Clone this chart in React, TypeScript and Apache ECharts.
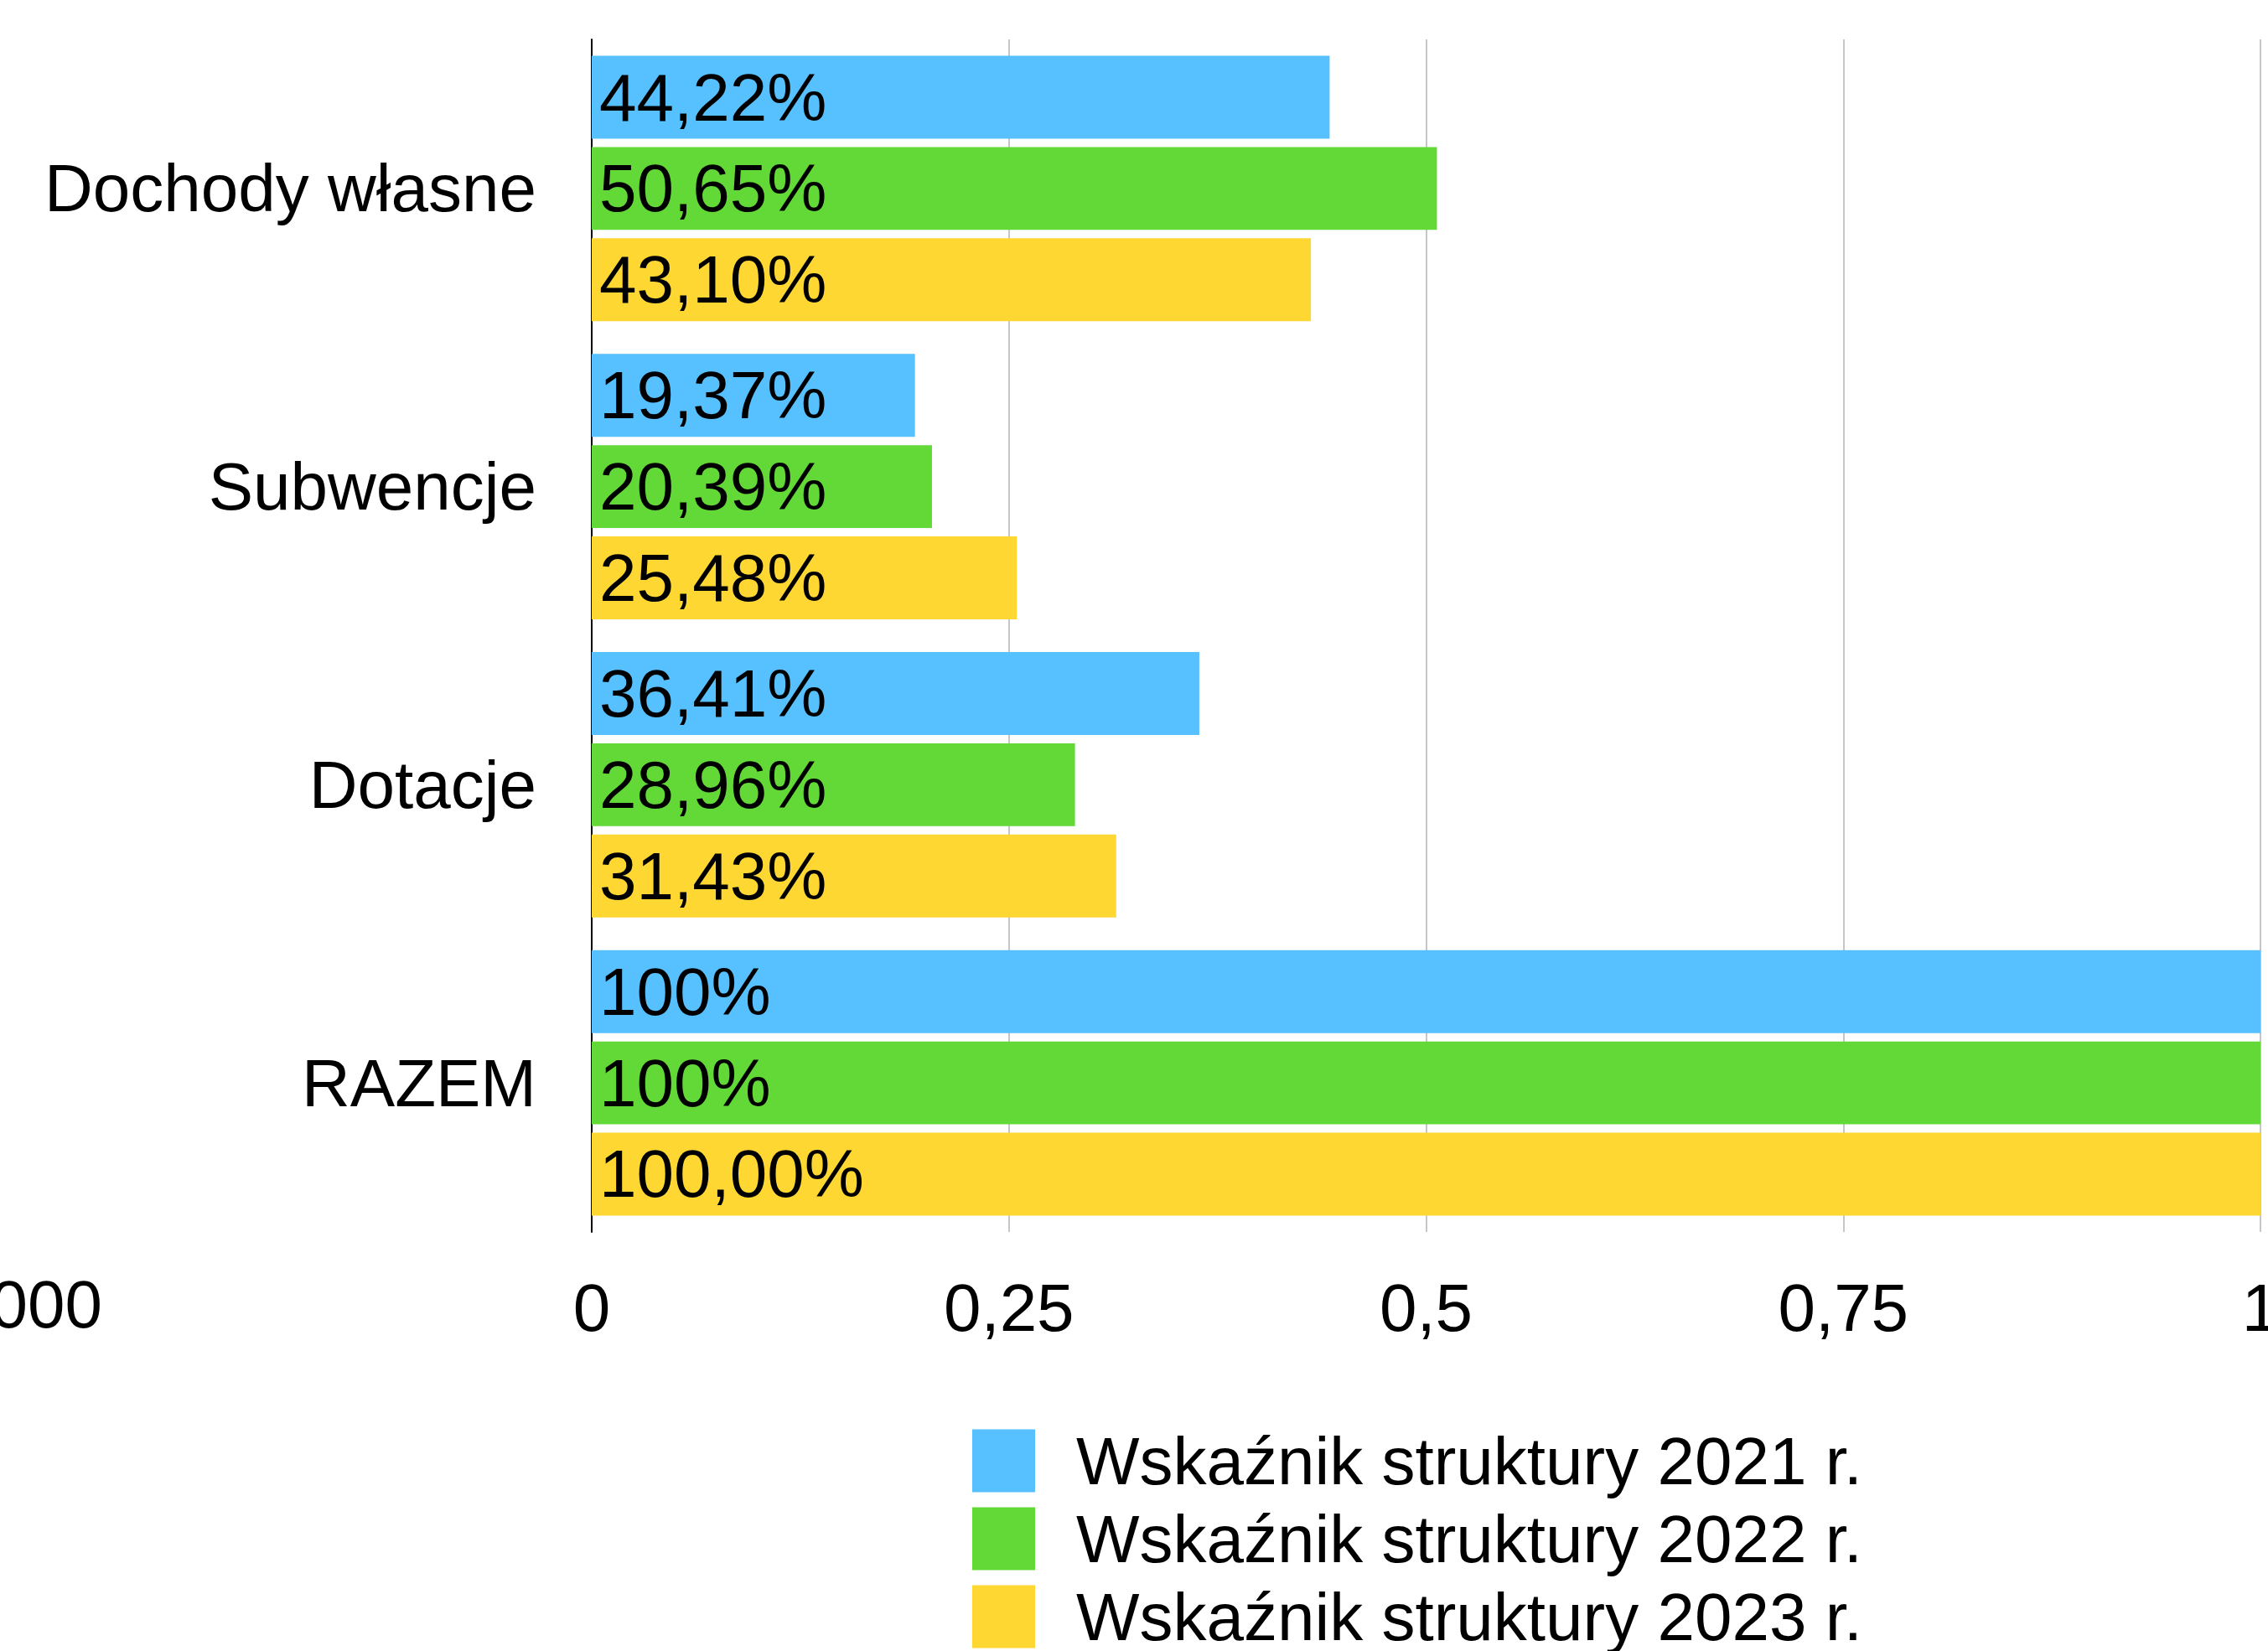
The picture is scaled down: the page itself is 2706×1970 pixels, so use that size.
import React, { useEffect, useRef } from "react";
import * as echarts from "echarts";

const categories = ["Dochody własne", "Subwencje", "Dotacje", "RAZEM"];
const seriesNames = [
  "Wskaźnik struktury 2021 r.",
  "Wskaźnik struktury 2022 r.",
  "Wskaźnik struktury 2023 r.",
];
const values2021 = [0.4422, 0.1937, 0.3641, 1];
const values2022 = [0.5065, 0.2039, 0.2896, 1];
const values2023 = [0.431, 0.2548, 0.3143, 1];
const labels2021 = ["44,22%", "19,37%", "36,41%", "100%"];
const labels2022 = ["50,65%", "20,39%", "28,96%", "100%"];
const labels2023 = ["43,10%", "25,48%", "31,43%", "100,00%"];
const colors = ["#57C0FE", "#63D938", "#FED733"];
const xTicks = [0, 0.25, 0.5, 0.75, 1];

const FONT = "'Liberation Sans', Arial, Helvetica, sans-serif";

export default function App() {
  const ref = useRef<HTMLDivElement>(null);
  useEffect(() => {
    document.documentElement.style.overflow = "hidden";
    document.body.style.margin = "0";
    document.body.style.overflow = "hidden";
    if (!ref.current) return;
    const chart = echarts.init(ref.current, null, {
      renderer: "svg",
      width: 2706,
      height: 1970,
    });
    const allValues = [values2021, values2022, values2023];
    const allLabels = [labels2021, labels2022, labels2023];
    chart.setOption({
      animation: false,
      backgroundColor: "#ffffff",
      textStyle: { fontFamily: FONT },
      grid: {
        left: 706,
        right: 9,
        top: 47,
        bottom: 500,
        containLabel: false,
        outerBoundsMode: "none",
      },
      legend: {
        orient: "vertical",
        left: 1160,
        top: 1703,
        height: 400,
        padding: 0,
        itemWidth: 75,
        itemHeight: 75,
        itemGap: 13,
        icon: "rect",
        data: seriesNames,
        textStyle: {
          fontSize: 80,
          fontFamily: FONT,
          color: "#000",
          padding: [0, 0, 0, 44],
        },
      },
      xAxis: {
        type: "value",
        min: xTicks[0],
        max: xTicks[xTicks.length - 1],
        interval: 0.25,
        axisLine: { show: false },
        axisTick: { show: false },
        splitLine: { show: true, lineStyle: { color: "#c6c6c6", width: 2 } },
        axisLabel: {
          fontSize: 80,
          fontFamily: FONT,
          color: "#000",
          margin: 50,
          formatter: (v: number) => String(v).replace(".", ","),
        },
      },
      yAxis: {
        type: "category",
        data: categories,
        inverse: true,
        axisLine: { show: true, lineStyle: { color: "#000", width: 2 } },
        axisTick: { show: false },
        splitLine: { show: false },
        axisLabel: {
          fontSize: 80,
          fontFamily: FONT,
          color: "#000",
          margin: 66,
        },
      },
      series: seriesNames.map((name, i) => ({
        name,
        type: "bar",
        data: allValues[i],
        barCategoryGap: "11%",
        barGap: "10%",
        itemStyle: { color: colors[i] },
        label: {
          show: true,
          position: "insideLeft",
          distance: 9,
          fontSize: 80,
          fontFamily: FONT,
          color: "#000",
          formatter: (p: any) => allLabels[i][p.dataIndex],
        },
      })),
      graphic: [
        {
          type: "text",
          x: 122,
          y: 1556,
          style: {
            text: "000",
            fontSize: 80,
            fontFamily: FONT,
            fill: "#000",
            align: "right",
            verticalAlign: "middle",
          },
        },
      ],
    });
    return () => chart.dispose();
  }, []);
  return (
    <div
      ref={ref}
      style={{ position: "fixed", left: 0, top: 0, width: 2706, height: 1970 }}
    />
  );
}
